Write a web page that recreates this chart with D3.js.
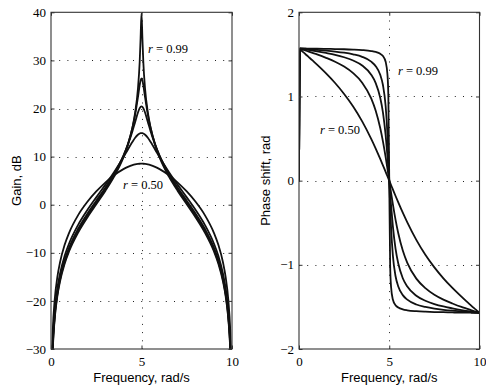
<!DOCTYPE html>
<html>
<head>
<meta charset="utf-8">
<script src="https://cdn.jsdelivr.net/npm/d3@7"></script>
<style>
  html, body { margin: 0; padding: 0; background: #fff; }
  svg { display: block; }
</style>
</head>
<body>
<div id="chart"></div>
<script>
// frequency samples, rad/s
const freq = [0, 0.05, 0.1, 0.2, 0.35, 0.5, 0.75, 1, 1.5, 2, 2.5, 3, 3.5, 4, 4.25, 4.5, 4.65, 4.8, 4.9, 4.95,
  5, 5.05, 5.1, 5.2, 5.35, 5.5, 5.75, 6, 6.5, 7, 7.5, 8, 8.5, 9, 9.25, 9.5, 9.65, 9.8, 9.9, 9.95, 10];

// gain, dB (null = off the bottom of the plot)
const gain050 = [null, -32.00, -25.97, -19.95, -15.08, -11.96, -8.40, -5.84, -2.16, 0.55, 2.75, 4.60, 6.16, 7.40, 7.87, 8.23, 8.38, 8.47, 8.51, 8.52,
  8.52, 8.52, 8.51, 8.47, 8.38, 8.23, 7.87, 7.40, 6.16, 4.60, 2.75, 0.55, -2.16, -5.84, -8.40, -11.96, -15.08, -19.95, -25.97, -32.00, null];
const gain080 = [null, -34.35, -28.33, -22.30, -17.42, -14.29, -10.68, -8.06, -4.19, -1.16, 1.52, 4.12, 6.84, 9.86, 11.48, 13.07, 13.92, 14.55, 14.81, 14.87,
  14.89, 14.87, 14.81, 14.55, 13.92, 13.07, 11.48, 9.86, 6.84, 4.12, 1.52, -1.16, -4.19, -8.06, -10.68, -14.29, -17.42, -22.30, -28.33, -34.35, null];
const gain090 = [null, -35.21, -29.19, -23.16, -18.27, -15.14, -11.53, -8.90, -5.00, -1.93, 0.82, 3.55, 6.54, 10.20, 12.50, 15.29, 17.21, 19.11, 20.07, 20.35,
  20.45, 20.35, 20.07, 19.11, 17.21, 15.29, 12.50, 10.20, 6.54, 3.55, 0.82, -1.93, -5.00, -8.90, -11.53, -15.14, -18.27, -23.16, -29.19, -35.21, null];
const gain095 = [null, -35.64, -29.62, -23.59, -18.71, -15.57, -11.96, -9.33, -5.43, -2.35, 0.42, 3.19, 6.25, 10.09, 12.63, 16.01, 18.73, 22.25, 24.85, 25.85,
  26.24, 25.85, 24.85, 22.25, 18.73, 16.01, 12.63, 10.09, 6.25, 3.19, 0.42, -2.35, -5.43, -9.33, -11.96, -15.57, -18.71, -23.59, -29.62, -35.64, null];
const gain099 = [null, -35.99, -29.97, -23.94, -19.05, -15.92, -12.31, -9.68, -5.77, -2.69, 0.09, 2.86, 5.94, 9.85, 12.47, 16.08, 19.19, 24.00, 29.72, 34.67,
  39.8, 34.67, 29.72, 24.00, 19.19, 16.08, 12.47, 9.85, 5.94, 2.86, 0.09, -2.69, -5.77, -9.68, -12.31, -15.92, -19.05, -23.94, -29.97, -35.99, null];

// phase shift, rad
const phase050 = [0, 1.561, 1.552, 1.533, 1.505, 1.476, 1.428, 1.378, 1.274, 1.160, 1.030, 0.881, 0.704, 0.496, 0.381, 0.258, 0.182, 0.104, 0.052, 0.026,
  0, -0.026, -0.052, -0.104, -0.182, -0.258, -0.381, -0.496, -0.704, -0.881, -1.030, -1.160, -1.274, -1.378, -1.428, -1.476, -1.505, -1.533, -1.552, -1.561, -1.571];
const phase080 = [0, 1.567, 1.564, 1.557, 1.547, 1.536, 1.518, 1.500, 1.459, 1.413, 1.355, 1.277, 1.164, 0.977, 0.830, 0.625, 0.466, 0.279, 0.142, 0.071,
  0, -0.071, -0.142, -0.279, -0.466, -0.625, -0.830, -0.977, -1.164, -1.277, -1.355, -1.413, -1.459, -1.500, -1.518, -1.536, -1.547, -1.557, -1.564, -1.567, -1.571];
const phase090 = [0, 1.569, 1.567, 1.564, 1.559, 1.554, 1.546, 1.537, 1.517, 1.495, 1.466, 1.427, 1.368, 1.258, 1.159, 0.985, 0.811, 0.540, 0.291, 0.149,
  0, -0.149, -0.291, -0.540, -0.811, -0.985, -1.159, -1.258, -1.368, -1.427, -1.466, -1.495, -1.517, -1.537, -1.546, -1.554, -1.559, -1.564, -1.567, -1.569, -1.571];
const phase095 = [0, 1.570, 1.569, 1.568, 1.565, 1.563, 1.558, 1.554, 1.545, 1.534, 1.520, 1.500, 1.471, 1.414, 1.360, 1.258, 1.136, 0.887, 0.550, 0.297,
  0, -0.297, -0.550, -0.887, -1.136, -1.258, -1.360, -1.414, -1.471, -1.500, -1.520, -1.534, -1.545, -1.554, -1.558, -1.563, -1.565, -1.568, -1.569, -1.570, -1.571];
const phase099 = [0, 1.571, 1.570, 1.570, 1.570, 1.569, 1.568, 1.568, 1.566, 1.563, 1.561, 1.557, 1.551, 1.540, 1.529, 1.507, 1.480, 1.412, 1.261, 1.002,
  0, -1.002, -1.261, -1.412, -1.480, -1.507, -1.529, -1.540, -1.551, -1.557, -1.561, -1.563, -1.566, -1.568, -1.568, -1.569, -1.570, -1.570, -1.570, -1.571, -1.571];

const gainSeries = [gain050, gain080, gain090, gain095, gain099];
const phaseSeries = [phase050, phase080, phase090, phase095, phase099];

const xTicks = [0, 5, 10];
const gainTicks = [-30, -20, -10, 0, 10, 20, 30, 40];
const phaseTicks = [-2, -1, 0, 1, 2];

// annotation text placed in data coordinates
const gainNotes = [{ f: 5.36, v: 31.5, r: "0.99" }, { f: 3.98, v: 3.25, r: "0.50" }];
const phaseNotes = [{ f: 5.48, v: 1.255, r: "0.99" }, { f: 1.16, v: 0.555, r: "0.50" }];

const W = 486, H = 385;
const plotTop = 12.3, plotBottom = 349;
const serif = '"Liberation Serif", "Times New Roman", Times, "DejaVu Serif", serif';
const sans = '"Liberation Sans", Arial, Helvetica, sans-serif';

const svg = d3.select("#chart").append("svg")
  .attr("width", W).attr("height", H);

function panel(id, left, right, yDomain, yTicks, series, notes, ylabel, ylabelX) {
  const x = d3.scaleLinear().domain([0, 10]).range([left, right]);
  const y = d3.scaleLinear().domain(yDomain).range([plotBottom, plotTop]);
  const g = svg.append("g");
  const fmt = d3.format("d");

  // dotted grid
  const grid = g.append("g").attr("stroke", "#222").attr("stroke-width", 1)
    .attr("stroke-dasharray", "1,7.2");
  yTicks.slice(1, -1).forEach(t => {
    grid.append("line").attr("x1", x(0)).attr("x2", x(10))
      .attr("y1", Math.round(y(t)) + 0.5).attr("y2", Math.round(y(t)) + 0.5);
  });
  grid.append("line").attr("x1", Math.round(x(5)) + 0.5).attr("x2", Math.round(x(5)) + 0.5)
    .attr("y1", plotTop).attr("y2", plotBottom);

  // clip for curves
  svg.append("clipPath").attr("id", id)
    .append("rect").attr("x", left).attr("y", plotTop)
    .attr("width", right - left).attr("height", plotBottom - plotTop);

  const line = d3.line()
    .defined(d => d.v != null)
    .x(d => x(d.f)).y(d => y(d.v))
    .curve(d3.curveMonotoneX);

  g.append("g").attr("clip-path", `url(#${id})`)
    .selectAll("path").data(series).enter()
    .append("path")
    .attr("fill", "none").attr("stroke", "#111").attr("stroke-width", 1.8)
    .attr("stroke-linejoin", "round")
    .attr("d", s => line(freq.map((f, i) => ({ f: f, v: s[i] }))));

  // axes, ticks pointing inward on all four sides
  g.append("g").attr("transform", `translate(0,${plotBottom})`)
    .call(d3.axisBottom(x).tickValues(xTicks).tickFormat(fmt).tickSize(-3.5).tickPadding(8));
  g.append("g").attr("transform", `translate(0,${plotTop})`)
    .call(d3.axisTop(x).tickValues(xTicks).tickSize(-3.5).tickFormat(""));
  g.append("g").attr("transform", `translate(${left},0)`)
    .call(d3.axisLeft(y).tickValues(yTicks).tickFormat(fmt).tickSize(-3.5).tickPadding(5));
  g.append("g").attr("transform", `translate(${right},0)`)
    .call(d3.axisRight(y).tickValues(yTicks).tickSize(-3.5).tickFormat(""));
  g.selectAll(".domain").remove();
  g.selectAll(".tick line").attr("stroke", "#333");
  g.selectAll(".tick text")
    .style("font-family", serif).style("font-size", "13px").attr("fill", "#000");

  // box
  g.append("rect").attr("x", left).attr("y", plotTop)
    .attr("width", right - left).attr("height", plotBottom - plotTop)
    .attr("fill", "none").attr("stroke", "#333").attr("stroke-width", 1.1);

  // annotations
  notes.forEach(n => {
    const t = g.append("text").attr("x", x(n.f)).attr("y", y(n.v))
      .style("font-family", serif).style("font-size", "12.5px");
    t.append("tspan").style("font-style", "italic").text("r");
    t.append("tspan").text(" = " + n.r);
  });

  // axis labels
  g.append("text").attr("text-anchor", "middle")
    .style("font-family", sans).style("font-size", "13px")
    .attr("x", (left + right) / 2).attr("y", 382)
    .text("Frequency, rad/s");
  g.append("text").attr("text-anchor", "middle")
    .style("font-family", sans).style("font-size", "13px")
    .attr("transform", `translate(${ylabelX},${(plotTop + plotBottom) / 2}) rotate(-90)`)
    .text(ylabel);
}

panel("clipGain", 51, 232, [-30, 40], gainTicks, gainSeries, gainNotes, "Gain, dB", 20.5);
panel("clipPhase", 299, 479.5, [-2, 2], phaseTicks, phaseSeries, phaseNotes, "Phase shift, rad", 270);
</script>
</body>
</html>
